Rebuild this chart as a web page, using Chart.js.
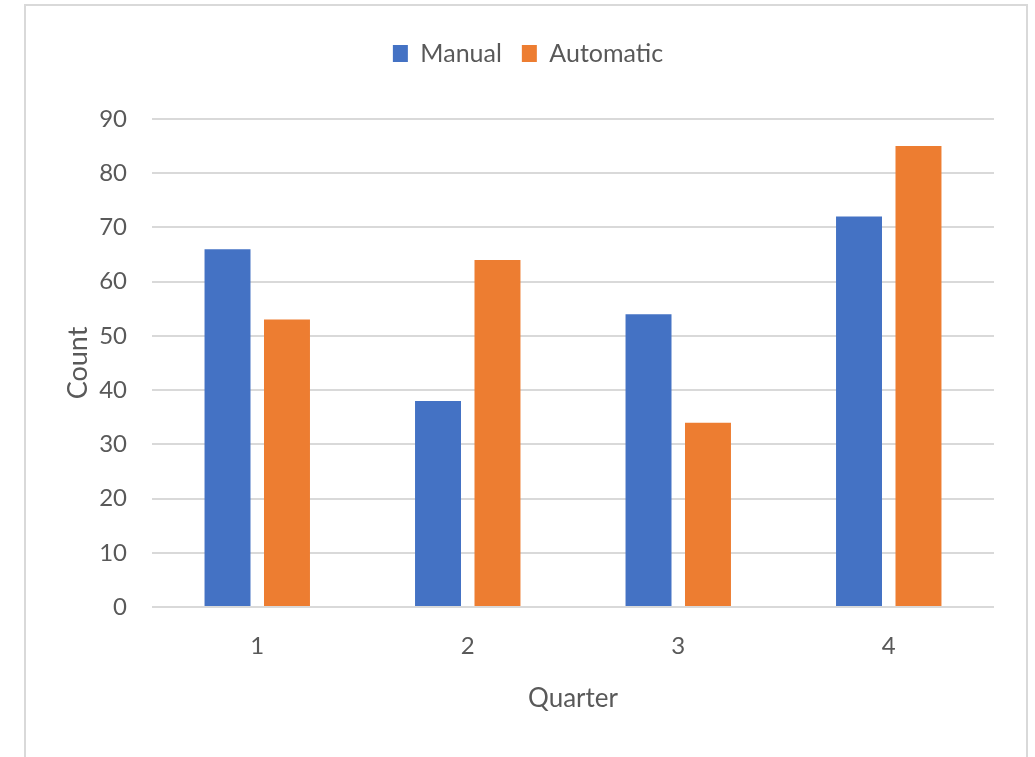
<!DOCTYPE html>
<html>
<head>
<meta charset="utf-8">
<script src="https://cdn.jsdelivr.net/npm/chart.js@4/dist/chart.umd.min.js"></script>
<style>
  html, body { margin: 0; padding: 0; background: #ffffff; }
  #wrap { position: relative; width: 1035px; height: 757px; overflow: hidden; }
  #frame { position: absolute; left: 24px; top: 4px; width: 1000px; height: 800px;
           border: 2px solid #d9d9d9; box-sizing: content-box; pointer-events: none; }
  canvas { position: absolute; left: 0; top: 0; }
</style>
</head>
<body>
<div id="wrap">
  <canvas id="chart" width="1035" height="757"></canvas>
  <div id="frame"></div>
</div>
<script>
// Quarterly counts by transmission type
const quarters = ['1', '2', '3', '4'];
const manualCounts = [66, 38, 54, 72];
const automaticCounts = [53, 64, 34, 85];
const yTicks = [0, 10, 20, 30, 40, 50, 60, 70, 80, 90];

const textColor = '#595959';
const gridColor = '#d9d9d9';
const fontFamily = 'Lato, "Open Sans", sans-serif';

const padLeft = 62, padBottom = 43, padTop = 21, padRight = 41;
const legendGap = 43;

// Extra space between the legend row and the plot area
const legendSpacer = {
  id: 'legendSpacer',
  beforeUpdate(chart) {
    const lg = chart.legend;
    if (lg && !lg._spaced) {
      const fit = lg.fit;
      lg.fit = function () { fit.call(this); this.height += legendGap; };
      lg._spaced = true;
    }
  }
};

new Chart(document.getElementById('chart'), {
  type: 'bar',
  data: {
    labels: quarters,
    datasets: [
      { label: 'Manual', data: manualCounts, backgroundColor: '#4472C4',
        categoryPercentage: 0.565, barPercentage: 0.773 },
      { label: 'Automatic', data: automaticCounts, backgroundColor: '#ED7D31',
        categoryPercentage: 0.565, barPercentage: 0.773 }
    ]
  },
  plugins: [legendSpacer],
  options: {
    responsive: false,
    animation: false,
    layout: { padding: { left: padLeft, right: padRight, top: padTop, bottom: padBottom } },
    plugins: {
      legend: {
        position: 'top',
        labels: {
          color: textColor,
          font: { family: fontFamily, size: 25 },
          boxWidth: 15,
          boxHeight: 17,
          padding: 20
        }
      },
      tooltip: { enabled: false }
    },
    scales: {
      x: {
        grid: { display: false },
        border: { display: false },
        ticks: { color: textColor, font: { family: fontFamily, size: 24 }, padding: 17 },
        title: { display: true, text: 'Quarter', color: textColor,
                 font: { family: fontFamily, size: 26 }, padding: 0 },
        afterFit: (s) => { s.height = 757 - padBottom - 607; }
      },
      y: {
        min: 0,
        max: 90,
        afterBuildTicks: (s) => { s.ticks = yTicks.map(v => ({ value: v })); },
        grid: { color: gridColor, lineWidth: 2, drawTicks: false },
        border: { display: false },
        ticks: { color: textColor, font: { family: fontFamily, size: 24 }, padding: 25 },
        title: { display: true, text: 'Count', color: textColor,
                 font: { family: fontFamily, size: 27 }, padding: 0 },
        afterFit: (s) => { s.width = 152 - padLeft; }
      }
    }
  }
});
</script>
</body>
</html>
